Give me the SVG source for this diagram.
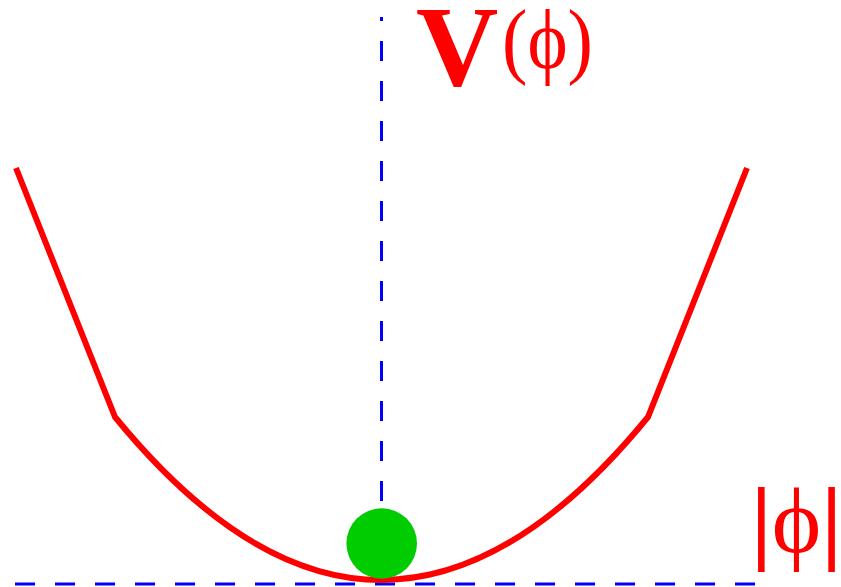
<svg xmlns="http://www.w3.org/2000/svg" width="841" height="587" viewBox="0 0 841 587">
<style>
.axis{stroke:#0000ff;stroke-width:3;stroke-dasharray:20 20;fill:none}
.pot{stroke:#ff0000;stroke-width:6;fill:none;stroke-linejoin:miter}
.lbl{fill:#ff0000;font-family:"Liberation Serif","Times New Roman",serif}
</style>
<rect width="841" height="587" fill="#ffffff"/>
<g id="connectors">
<line class="axis" x1="381.5" y1="501" x2="381.5" y2="17"/>
<line class="axis" x1="15" y1="584" x2="755" y2="584"/>
</g>
<g id="potential">
<path class="pot" d="M16,168 L115,417 Q381.5,743 648,417 L747,168"/>
</g>
<g id="ball">
<circle cx="381.7" cy="543.5" r="35.3" fill="#00cc00"/>
</g>
<g id="label-V">
<text class="lbl" x="416" y="85" font-size="114" font-weight="bold">V</text>
<text class="lbl" x="502" y="68" font-size="84" textLength="91" lengthAdjust="spacingAndGlyphs">(ϕ)</text>
</g>
<g id="label-phi">
<text class="lbl" x="751" y="552" font-size="94"><tspan font-weight="bold">|</tspan>ϕ<tspan font-weight="bold">|</tspan></text>
</g>
</svg>
